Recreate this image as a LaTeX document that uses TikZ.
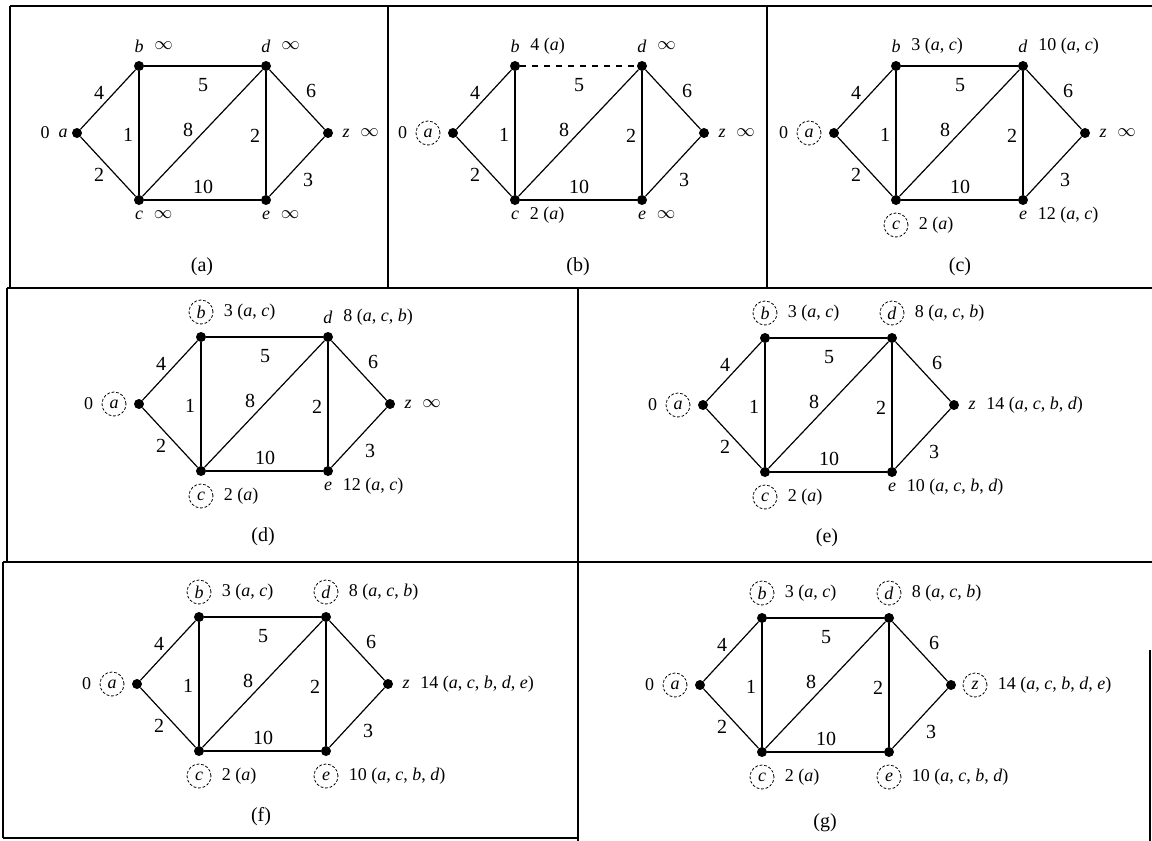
\documentclass[tikz,border=0pt]{standalone}
\usepackage{fontspec}
\setmainfont{Liberation Serif}
\tikzset{
  dot/.style={circle,fill=black,inner sep=0pt,minimum size=5pt},
  edge/.style={line width=0.6pt},
  wt/.style={font=\fontsize{10}{12}\selectfont,inner sep=0pt},
  lbl/.style={font=\fontsize{9}{11}\selectfont,inner sep=0pt},
  circ/.style={lbl,circle,draw,line width=0.4pt,dash pattern=on 1.4pt off 0.9pt,minimum size=12pt},
  plup/.style={lbl,yshift=10pt}, clup/.style={circ,yshift=12.5pt},
  pldn/.style={lbl,yshift=-7.5pt}, cldn/.style={circ,yshift=-12.5pt},
  pllf/.style={lbl,xshift=-7pt}, cllf/.style={circ,xshift=-12.5pt},
  plrt/.style={lbl,xshift=9pt}, clrt/.style={circ,xshift=12pt},
  val/.style={lbl,anchor=west,xshift=5pt},
  zero/.style={lbl,anchor=east,xshift=-4pt},
  capt/.style={font=\fontsize{10}{12}\selectfont,inner sep=0pt},
  frame/.style={line width=0.7pt}
}
% #1 prefix, #2 #3 position of a, #4 extra style of edge b--d
\newcommand\drawgraph[4]{%
 \begin{scope}[shift={(#2,#3)}]
  \node[dot] (#1a) at (0,0) {};
  \node[dot] (#1b) at (62,-67) {};
  \node[dot] (#1c) at (62,67) {};
  \node[dot] (#1d) at (189,-67) {};
  \node[dot] (#1e) at (189,67) {};
  \node[dot] (#1z) at (251,0) {};
  \draw[edge] (#1a) -- (#1b);
  \draw[edge] (#1a) -- (#1c);
  \draw[edge] (#1b) -- (#1c);
  \draw[edge,#4] (#1b) -- (#1d);
  \draw[edge] (#1c) -- (#1d);
  \draw[edge] (#1c) -- (#1e);
  \draw[edge] (#1d) -- (#1e);
  \draw[edge] (#1d) -- (#1z);
  \draw[edge] (#1e) -- (#1z);
  \node[wt] (#1wab) at (22,-40) {4};
  \node[wt] (#1wac) at (22,42) {2};
  \node[wt] (#1wbc) at (51,2) {1};
  \node[wt] (#1wbd) at (126,-48) {5};
  \node[wt] (#1wcd) at (111,-3) {8};
  \node[wt] (#1wde) at (178,3) {2};
  \node[wt] (#1wdz) at (234,-42) {6};
  \node[wt] (#1wez) at (231,47) {3};
  \node[wt] (#1wce) at (126,54) {10};
 \end{scope}}
\newcommand\ia{\textit{a}}
\newcommand\ib{\textit{b}}
\newcommand\ic{\textit{c}}
\newcommand\id{\textit{d}}
\newcommand\ie{\textit{e}}
\newcommand\iz{\textit{z}}
\begin{document}
\begin{tikzpicture}[x=0.5pt,y=-0.5pt]
\useasboundingbox (0,0) rectangle (1152,841);
% frames
\draw[frame] (10,6) -- (1152,6);
\draw[frame] (10,6) -- (10,288);
\draw[frame] (388,6) -- (388,288);
\draw[frame] (767,6) -- (767,288);
\draw[frame] (7,288) -- (1152,288);
\draw[frame] (7,288) -- (7,562);
\draw[frame] (578,288) -- (578,562);
\draw[frame] (3,562) -- (1152,562);
\draw[frame] (3,562) -- (3,838);
\draw[frame] (578,562) -- (578,841);
\draw[frame] (3,838) -- (578,838);
\draw[frame] (1150,650) -- (1150,841);

% ---------- (a)
\drawgraph{A}{77}{133}{}
\node[pllf] (ALa) at (Aa) {\ia}; \node[zero] at (ALa.west) {0};
\node[plup] (ALb) at (Ab) {\ib}; \node[val] at (ALb.east) {$\infty$};
\node[plup] (ALd) at (Ad) {\id}; \node[val] at (ALd.east) {$\infty$};
\node[pldn] (ALc) at (Ac) {\ic}; \node[val] at (ALc.east) {$\infty$};
\node[pldn] (ALe) at (Ae) {\ie}; \node[val] at (ALe.east) {$\infty$};
\node[plrt] (ALz) at (Az) {\iz}; \node[val] at (ALz.east) {$\infty$};
\node[capt] (Acap) at (202,267) {(a)};

% ---------- (b)
\drawgraph{B}{453}{133}{dashed}
\node[cllf] (BLa) at (Ba) {\ia}; \node[zero] at (BLa.west) {0};
\node[plup] (BLb) at (Bb) {\ib}; \node[val] at (BLb.east) {4 (\ia)};
\node[plup] (BLd) at (Bd) {\id}; \node[val] at (BLd.east) {$\infty$};
\node[pldn] (BLc) at (Bc) {\ic}; \node[val] at (BLc.east) {2 (\ia)};
\node[pldn] (BLe) at (Be) {\ie}; \node[val] at (BLe.east) {$\infty$};
\node[plrt] (BLz) at (Bz) {\iz}; \node[val] at (BLz.east) {$\infty$};
\node[capt] (Bcap) at (578,267) {(b)};

% ---------- (c)
\drawgraph{C}{834}{133}{}
\node[cllf] (CLa) at (Ca) {\ia}; \node[zero] at (CLa.west) {0};
\node[plup] (CLb) at (Cb) {\ib}; \node[val] at (CLb.east) {3 (\ia, \ic)};
\node[plup] (CLd) at (Cd) {\id}; \node[val] at (CLd.east) {10 (\ia, \ic)};
\node[cldn] (CLc) at (Cc) {\ic}; \node[val] at (CLc.east) {2 (\ia)};
\node[pldn] (CLe) at (Ce) {\ie}; \node[val] at (CLe.east) {12 (\ia, \ic)};
\node[plrt] (CLz) at (Cz) {\iz}; \node[val] at (CLz.east) {$\infty$};
\node[capt] (Ccap) at (960,267) {(c)};

% ---------- (d)
\drawgraph{D}{139}{404}{}
\node[cllf] (DLa) at (Da) {\ia}; \node[zero] at (DLa.west) {0};
\node[clup] (DLb) at (Db) {\ib}; \node[val] at (DLb.east) {3 (\ia, \ic)};
\node[plup] (DLd) at (Dd) {\id}; \node[val] at (DLd.east) {8 (\ia, \ic, \ib)};
\node[cldn] (DLc) at (Dc) {\ic}; \node[val] at (DLc.east) {2 (\ia)};
\node[pldn] (DLe) at (De) {\ie}; \node[val] at (DLe.east) {12 (\ia, \ic)};
\node[plrt] (DLz) at (Dz) {\iz}; \node[val] at (DLz.east) {$\infty$};
\node[capt] (Dcap) at (263,537) {(d)};

% ---------- (e)
\drawgraph{E}{703}{405}{}
\node[cllf] (ELa) at (Ea) {\ia}; \node[zero] at (ELa.west) {0};
\node[clup] (ELb) at (Eb) {\ib}; \node[val] at (ELb.east) {3 (\ia, \ic)};
\node[clup] (ELd) at (Ed) {\id}; \node[val] at (ELd.east) {8 (\ia, \ic, \ib)};
\node[cldn] (ELc) at (Ec) {\ic}; \node[val] at (ELc.east) {2 (\ia)};
\node[pldn] (ELe) at (Ee) {\ie}; \node[val] at (ELe.east) {10 (\ia, \ic, \ib, \id)};
\node[plrt] (ELz) at (Ez) {\iz}; \node[val] at (ELz.east) {14 (\ia, \ic, \ib, \id)};
\node[capt] (Ecap) at (827,538) {(e)};

% ---------- (f)
\drawgraph{F}{137}{684}{}
\node[cllf] (FLa) at (Fa) {\ia}; \node[zero] at (FLa.west) {0};
\node[clup] (FLb) at (Fb) {\ib}; \node[val] at (FLb.east) {3 (\ia, \ic)};
\node[clup] (FLd) at (Fd) {\id}; \node[val] at (FLd.east) {8 (\ia, \ic, \ib)};
\node[cldn] (FLc) at (Fc) {\ic}; \node[val] at (FLc.east) {2 (\ia)};
\node[cldn] (FLe) at (Fe) {\ie}; \node[val] at (FLe.east) {10 (\ia, \ic, \ib, \id)};
\node[plrt] (FLz) at (Fz) {\iz}; \node[val] at (FLz.east) {14 (\ia, \ic, \ib, \id, \ie)};
\node[capt] (Fcap) at (261,817) {(f)};

% ---------- (g)
\drawgraph{G}{700}{685}{}
\node[cllf] (GLa) at (Ga) {\ia}; \node[zero] at (GLa.west) {0};
\node[clup] (GLb) at (Gb) {\ib}; \node[val] at (GLb.east) {3 (\ia, \ic)};
\node[clup] (GLd) at (Gd) {\id}; \node[val] at (GLd.east) {8 (\ia, \ic, \ib)};
\node[cldn] (GLc) at (Gc) {\ic}; \node[val] at (GLc.east) {2 (\ia)};
\node[cldn] (GLe) at (Ge) {\ie}; \node[val] at (GLe.east) {10 (\ia, \ic, \ib, \id)};
\node[clrt] (GLz) at (Gz) {\iz}; \node[val] at (GLz.east) {14 (\ia, \ic, \ib, \id, \ie)};
\node[capt] (Gcap) at (825,823) {(g)};
\end{tikzpicture}
\end{document}
